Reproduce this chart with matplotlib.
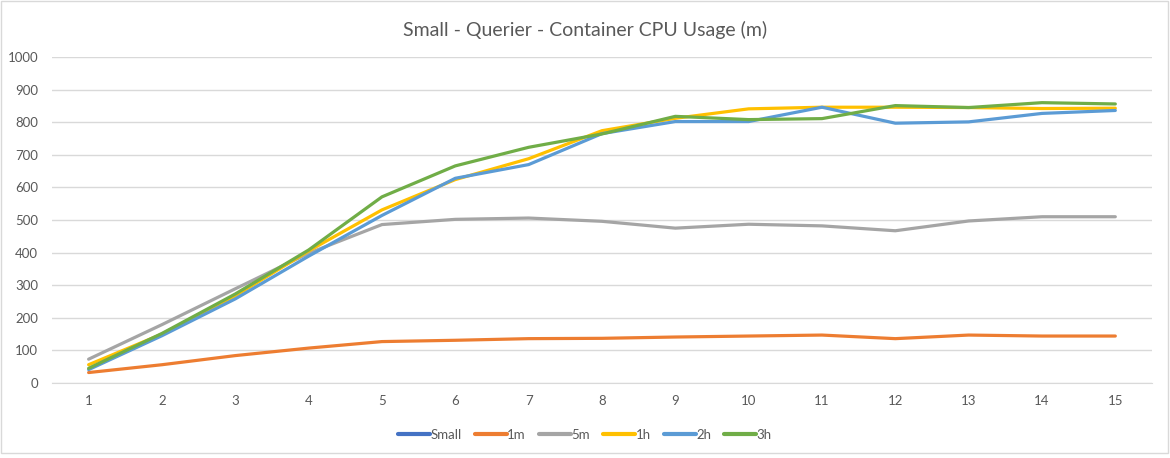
import matplotlib
matplotlib.use("Agg")
import matplotlib.pyplot as plt
from matplotlib.patches import Rectangle

plt.rcParams["font.family"] = ["Lato", "DejaVu Sans"]

x = list(range(1, 16))
small = []  # no visible data in the reference
m1 = [32, 56, 84, 107, 127, 131, 136, 137, 141, 144, 147, 136, 147, 144, 144]
m5 = [73, 179, 289, 398, 486, 502, 506, 496, 475, 487, 482, 467, 497, 510, 510]
h1 = [56, 150, 267, 405, 531, 624, 688, 774, 812, 841, 846, 846, 845, 842, 843]
h2 = [41, 145, 258, 389, 514, 628, 670, 765, 802, 802, 846, 797, 801, 827, 836]
h3 = [45, 152, 273, 408, 571, 666, 723, 764, 818, 808, 811, 851, 845, 860, 856]

series = [
    ("Small", small, "#4472C4"),
    ("1m", m1, "#ED7D31"),
    ("5m", m5, "#A5A5A5"),
    ("1h", h1, "#FFC000"),
    ("2h", h2, "#5B9BD5"),
    ("3h", h3, "#70AD47"),
]

TXT = "#595959"
GRID = "#D9D9D9"

fig = plt.figure(figsize=(11.7, 4.58), dpi=100)
ax = fig.add_axes([0.0444, 0.1638, 0.9402, 0.7117])

for name, vals, col in series:
    ax.plot(x[:len(vals)], vals, color=col, lw=2.3, label=name,
            solid_capstyle="round", solid_joinstyle="round")

ax.set_xlim(0.5, 15.5)
ax.set_ylim(0, 1000)
ax.set_yticks(range(0, 1001, 100))
ax.set_xticks(x)
ax.grid(axis="y", color=GRID, lw=1)
ax.set_axisbelow(True)
for s in ["top", "right", "left"]:
    ax.spines[s].set_visible(False)
ax.spines["bottom"].set_color(GRID)
ax.tick_params(length=0, labelsize=9.5, colors=TXT)
ax.tick_params(axis="x", pad=9)
ax.tick_params(axis="y", pad=10)

fig.suptitle("Small - Querier - Container CPU Usage (m)", y=0.955,
             fontsize=14, color=TXT)

leg = fig.legend(loc="center", bbox_to_anchor=(0.5, 0.05), ncol=6, frameon=False,
                 fontsize=9.5, labelcolor=TXT, handlelength=2.4, handletextpad=0.05,
                 columnspacing=1.0)
for line in leg.get_lines():
    line.set_linewidth(3)

fig.patches.append(Rectangle((0.001, 0.012), 0.997, 0.986, transform=fig.transFigure,
                             fill=False, edgecolor=GRID, lw=1))

fig.savefig("out.png", dpi=100)
